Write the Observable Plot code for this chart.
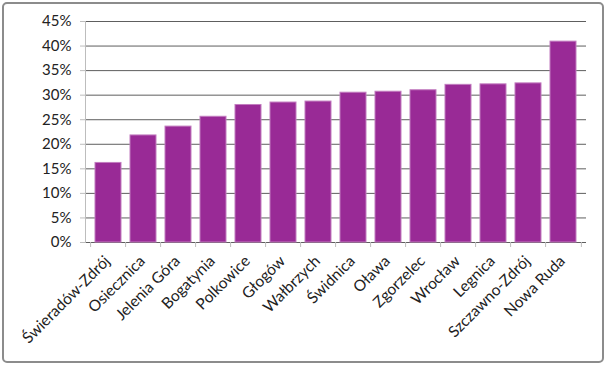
<!DOCTYPE html>
<html>
<head>
<meta charset="utf-8">
<script src="https://cdn.jsdelivr.net/npm/d3@7"></script>
<script src="https://cdn.jsdelivr.net/npm/@observablehq/plot@0.6"></script>
<style>
  body { margin: 0; background: #fff; }
  #wrap { position: relative; width: 607px; height: 366px; }
  #border { position: absolute; left: 2px; top: 2px; width: 602px; height: 361px; box-sizing: border-box;
            border: 2px solid #8c8c8c; border-radius: 5px; pointer-events: none; }
</style>
</head>
<body>
<div id="wrap"><div id="border"></div></div>
<script>
const cities = ["Świeradów-Zdrój", "Osiecznica", "Jelenia Góra", "Bogatynia", "Polkowice", "Głogów",
  "Wałbrzych", "Świdnica", "Oława", "Zgorzelec", "Wrocław", "Legnica", "Szczawno-Zdrój", "Nowa Ruda"];
const values = [0.162, 0.218, 0.236, 0.256, 0.280, 0.285, 0.287, 0.305, 0.307, 0.310, 0.321, 0.322, 0.324, 0.409];
const yTicks = [0, 0.05, 0.10, 0.15, 0.20, 0.25, 0.30, 0.35, 0.40, 0.45];

const data = cities.map((c, i) => ({city: c, value: values[i]}));

const W = 607, H = 366, mL = 85, mR = 21, mT = 21, mB = 124;
const step = (W - mL - mR) / cities.length;

const chart = Plot.plot({
  width: W, height: H,
  marginLeft: mL, marginRight: mR, marginTop: mT, marginBottom: mB,
  style: {fontFamily: "Lato, 'Open Sans', sans-serif", fontSize: "15px", color: "#222", background: "transparent"},
  x: {domain: cities, paddingInner: 0.25, paddingOuter: 0.125, label: null},
  y: {domain: [0, 0.45], label: null},
  marks: [
    Plot.gridY(yTicks, {stroke: "#5e5e5e", strokeOpacity: 1, strokeWidth: 1}),
    Plot.frame({anchor: "left", stroke: "#bdbdbd"}),
    Plot.axisY(yTicks, {tickSize: 5, tickPadding: 9, stroke: "#bdbdbd", tickFormat: d3.format(".0%"), fontSize: 15, fill: "#222"}),
    Plot.axisX({tickSize: 5, text: null, dx: -step / 2, stroke: "#bdbdbd"}),
    Plot.axisX([cities[cities.length - 1]], {tickSize: 5, text: null, dx: step / 2, stroke: "#bdbdbd"}),
    Plot.axisX({tickSize: 0, tickPadding: 16, dx: -1, tickRotate: -45, fontSize: 15.5, fill: "#222"}),
    Plot.barY(data, {x: "city", y: "value", fill: "#992a96", stroke: "#c27cbf", strokeWidth: 1})
  ]
});
document.getElementById("wrap").prepend(chart);
chart.style.position = "absolute";
chart.style.left = "0px";
chart.style.top = "0px";
</script>
</body>
</html>
